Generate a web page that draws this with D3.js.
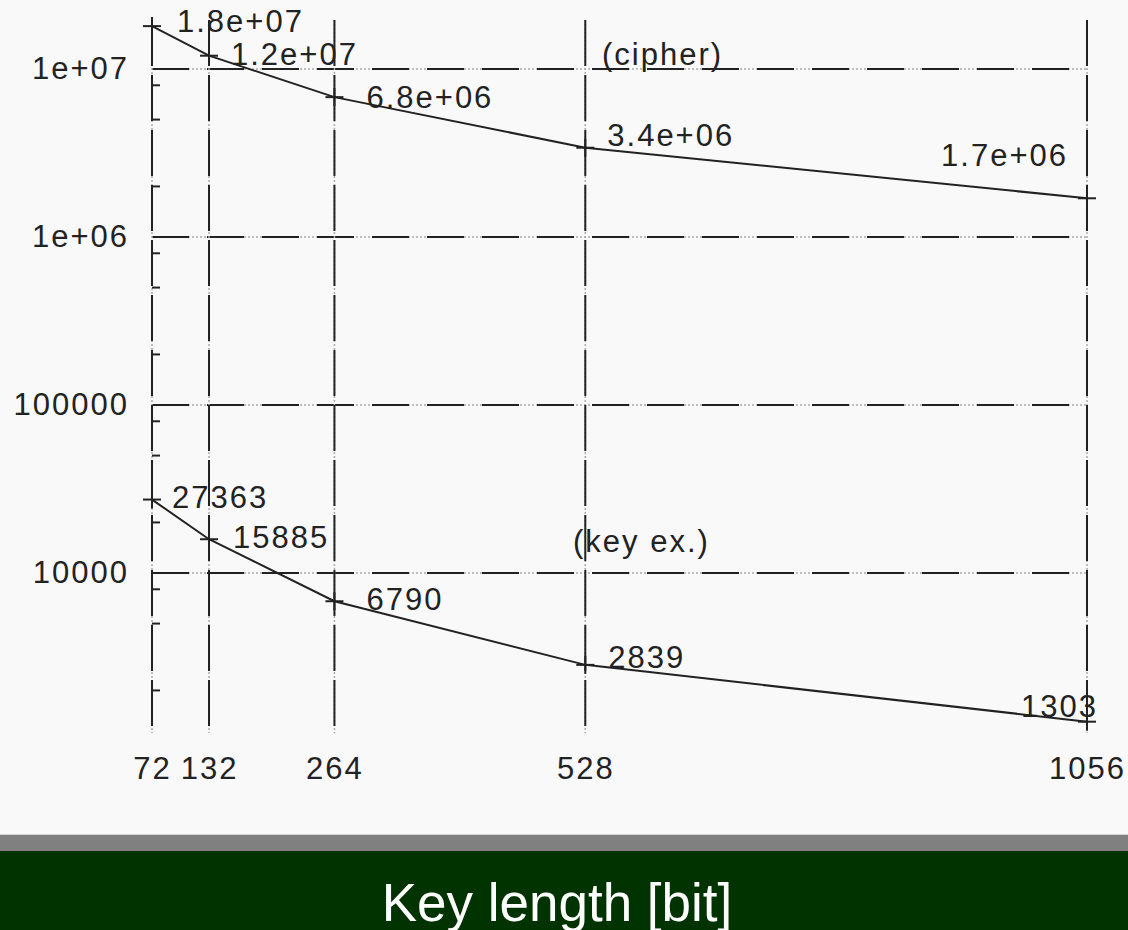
<!DOCTYPE html>
<html>
<head>
<meta charset="utf-8">
<script src="https://cdn.jsdelivr.net/npm/d3@7"></script>
<style>
  html, body { margin: 0; padding: 0; background: #f9f9f9; }
  svg { display: block; }
  .lbl { font-family: "Liberation Sans", Arial, sans-serif; font-size: 31px; fill: #222; letter-spacing: 2px; }
</style>
</head>
<body>
<div id="chart"></div>
<script>
// key lengths (bit)
const keyLengths = [72, 132, 264, 528, 1056];
const cipherValues = [1.8e7, 1.2e7, 6.8e6, 3.4e6, 1.7e6];
const cipherLabels = ["1.8e+07", "1.2e+07", "6.8e+06", "3.4e+06", "1.7e+06"];
const keyExValues = [27363, 15885, 6790, 2839, 1303];
const keyExLabels = ["27363", "15885", "6790", "2839", "1303"];
const yMajorTicks = [1e7, 1e6, 1e5, 1e4];
const yTickLabels = ["1e+07", "1e+06", "100000", "10000"];
const yMinorTicks = [8e6, 5e6, 2e6, 8e5, 5e5, 2e5, 8e4, 5e4, 2e4, 8e3, 5e3, 2e3];
const xTickLabels = ["72", "132", "264", "528", "1056"];

const W = 1128, H = 930;
const plotTop = 20, plotBottom = 733;
const ink = "#222";

const svg = d3.select("#chart").append("svg")
  .attr("width", W).attr("height", H);

svg.append("rect").attr("width", W).attr("height", H).attr("fill", "#f9f9f9");

const x = d3.scaleLinear().domain([72, 1056]).range([152, 1087]);
const y = d3.scaleLog().domain([1e4, 1e7]).range([573, 69]);

// --- grid ---
const grid = svg.append("g");
yMajorTicks.forEach(v => {
  grid.append("line")
    .attr("x1", x(72)).attr("x2", x(1056)).attr("y1", y(v)).attr("y2", y(v))
    .attr("stroke", "#aaa").attr("stroke-width", 1.5).attr("stroke-dasharray", "2,2");
  grid.append("line")
    .attr("x1", x(72)).attr("x2", x(1056)).attr("y1", y(v)).attr("y2", y(v))
    .attr("stroke", ink).attr("stroke-width", 2).attr("stroke-dasharray", "37,18");
});
keyLengths.forEach(k => {
  grid.append("line")
    .attr("x1", x(k)).attr("x2", x(k)).attr("y1", plotTop).attr("y2", plotBottom)
    .attr("stroke", "#aaa").attr("stroke-width", 1.5).attr("stroke-dasharray", "2,2");
  grid.append("line")
    .attr("x1", x(k)).attr("x2", x(k)).attr("y1", plotTop).attr("y2", plotBottom)
    .attr("stroke", ink).attr("stroke-width", 2).attr("stroke-dasharray", "46,9");
});
// minor ticks on left axis
yMinorTicks.forEach(v => {
  grid.append("line")
    .attr("x1", x(72)).attr("x2", x(72) + 8).attr("y1", y(v)).attr("y2", y(v))
    .attr("stroke", ink).attr("stroke-width", 2);
});

// --- axes labels ---
const yAxis = d3.axisLeft(y)
  .tickValues(yMajorTicks)
  .tickSize(0).tickPadding(25)
  .tickFormat((d, i) => yTickLabels[i]);
svg.append("g").attr("transform", `translate(${x(72)},0)`).call(yAxis)
  .call(g => g.select(".domain").remove())
  .selectAll("text").attr("class", "lbl").attr("font-size", null).attr("font-family", null)
  .attr("fill", null).attr("dx", "2px");

const xAxis = d3.axisBottom(x)
  .tickValues(keyLengths)
  .tickSize(0).tickPadding(24)
  .tickFormat((d, i) => xTickLabels[i]);
svg.append("g").attr("transform", `translate(0,${plotBottom})`).call(xAxis)
  .call(g => g.select(".domain").remove())
  .selectAll("text").attr("class", "lbl").attr("font-size", null).attr("font-family", null)
  .attr("fill", null);

// --- series ---
const line = d3.line().x(d => x(d[0])).y(d => y(d[1]));
const series = [
  { values: cipherValues, labels: cipherLabels, name: "(cipher)", nameAt: [570, 65],
    offs: [[25, -5, "start"], [22, -2, "start"], [32, 0, "start"], [22, -13, "start"], [-19, -43, "end"]] },
  { values: keyExValues, labels: keyExLabels, name: "(key ex.)", nameAt: [573, 552],
    offs: [[20, -3, "start"], [24, -2, "start"], [32, -2, "start"], [23, -8, "start"], [11, -16, "end"]] }
];

series.forEach(s => {
  const pts = keyLengths.map((k, i) => [k, s.values[i]]);
  svg.append("path").datum(pts)
    .attr("d", line).attr("fill", "none")
    .attr("stroke", ink).attr("stroke-width", 2);

  const marks = svg.append("g").selectAll("g").data(pts).join("g")
    .attr("transform", d => `translate(${x(d[0])},${y(d[1])})`);
  marks.append("line").attr("x1", -9).attr("x2", 9).attr("stroke", ink).attr("stroke-width", 2);
  marks.append("line").attr("y1", -9).attr("y2", 9).attr("stroke", ink).attr("stroke-width", 2);

  svg.append("g").selectAll("text").data(pts).join("text")
    .attr("class", "lbl")
    .attr("x", (d, i) => x(d[0]) + s.offs[i][0])
    .attr("y", (d, i) => y(d[1]) + s.offs[i][1])
    .attr("dy", "0.36em")
    .attr("text-anchor", (d, i) => s.offs[i][2])
    .text((d, i) => s.labels[i]);
});

// series names
svg.append("text").attr("class", "lbl").attr("x", 602).attr("y", 65).text(series[0].name);
svg.append("text").attr("class", "lbl").attr("x", 573).attr("y", 552).text(series[1].name);

// --- bottom band ---
svg.append("rect").attr("x", 0).attr("y", 834).attr("width", W).attr("height", 17).attr("fill", "#808080");
svg.append("line").attr("x1", 0).attr("x2", W).attr("y1", 834.5).attr("y2", 834.5).attr("stroke", "#d4d4d4");
svg.append("rect").attr("x", 0).attr("y", 851).attr("width", W).attr("height", H - 851).attr("fill", "#003300");
svg.append("text")
  .attr("x", 557).attr("y", 921)
  .attr("text-anchor", "middle")
  .attr("font-family", "'Liberation Sans', Arial, sans-serif")
  .attr("font-size", 53)
  .attr("fill", "#fff")
  .text("Key length [bit]");
</script>
</body>
</html>
